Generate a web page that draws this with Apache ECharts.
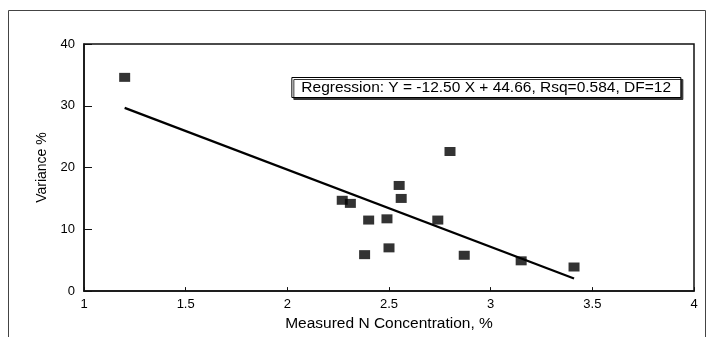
<!DOCTYPE html>
<html>
<head>
<meta charset="utf-8">
<script src="https://cdn.jsdelivr.net/npm/echarts@6/dist/echarts.min.js"></script>
<style>html,body{margin:0;padding:0;background:#fff}#c{width:709px;height:337px}</style>
</head>
<body>
<div id="c"></div>
<script>
// Measured N concentration (%) and variance (%)
var nConc = [1.20, 2.80, 2.55, 2.56, 2.27, 2.31, 2.40, 2.49, 2.74, 2.50, 2.38, 2.87, 3.15, 3.41];
var variance = [34.6, 22.6, 17.1, 15.0, 14.7, 14.2, 11.5, 11.7, 11.5, 7.0, 5.9, 5.8, 4.9, 3.9];
// regression line endpoints (Y = -12.50 X + 44.66)
var fitX = [1.20, 3.41];
var fitY = [29.66, 2.03];
var xTicks = [1, 1.5, 2, 2.5, 3, 3.5, 4];
var yTicks = [0, 10, 20, 30, 40];
var regressionText = 'Regression: Y = -12.50 X + 44.66, Rsq=0.584, DF=12';
var xTitle = 'Measured N Concentration, %';
var yTitle = 'Variance %';

var font = "'Liberation Sans', Arial, sans-serif";
var chart = echarts.init(document.getElementById('c'), null, {renderer: 'canvas'});
chart.setOption({
  animation: false,
  backgroundColor: '#fff',
  graphic: [{
    type: 'rect', z: -1, silent: true,
    shape: {x: 8.5, y: 10.5, width: 697, height: 340},
    style: {fill: 'none', stroke: '#444', lineWidth: 1}
  }],
  title: {
    text: regressionText,
    right: 28, top: 77,
    padding: [3, 10, 2, 10],
    borderColor: '#000', borderWidth: 1,
    backgroundColor: '#fff',
    shadowColor: '#333', shadowOffsetX: 2, shadowOffsetY: 2, shadowBlur: 0,
    textStyle: {fontFamily: font, fontSize: 15.5, fontWeight: 'normal', color: '#000'}
  },
  grid: {left: 84, right: 15, top: 44, bottom: 44.5, show: true, borderColor: '#111', borderWidth: 1.5, containLabel: false},
  xAxis: {
    type: 'value', min: 1, max: 4, interval: 0.5,
    name: xTitle, nameLocation: 'middle', nameGap: 21,
    nameTextStyle: {fontFamily: font, fontSize: 15.5, color: '#000'},
    axisLine: {show: true, lineStyle: {color: '#111', width: 1.5}},
    axisTick: {show: true, inside: true, length: 4, lineStyle: {color: '#111'}},
    splitLine: {show: false},
    axisLabel: {fontFamily: font, fontSize: 13, color: '#000', margin: 7,
      formatter: function (v) { return xTicks.indexOf(v) >= 0 ? String(v) : ''; }}
  },
  yAxis: {
    type: 'value', min: 0, max: 40, interval: 10,
    name: yTitle, nameLocation: 'middle', nameGap: 34, nameRotate: 90,
    nameTextStyle: {fontFamily: font, fontSize: 14, color: '#000'},
    axisLine: {show: true, lineStyle: {color: '#111', width: 1.5}},
    axisTick: {show: true, inside: true, length: 8, lineStyle: {color: '#111'}},
    splitLine: {show: false},
    axisLabel: {fontFamily: font, fontSize: 13, color: '#000', margin: 9,
      formatter: function (v) { return yTicks.indexOf(v) >= 0 ? String(v) : ''; }}
  },
  series: [{
    type: 'line',
    data: fitX.map(function (x, i) { return [x, fitY[i]]; }),
    showSymbol: false, symbol: 'none',
    lineStyle: {color: '#000', width: 2.2},
    z: 2
  }, {
    type: 'scatter',
    data: nConc.map(function (x, i) { return [x, variance[i]]; }),
    symbol: 'rect', symbolSize: [11, 9],
    itemStyle: {color: '#000'},
    z: 3
  }]
});
</script>
</body>
</html>
